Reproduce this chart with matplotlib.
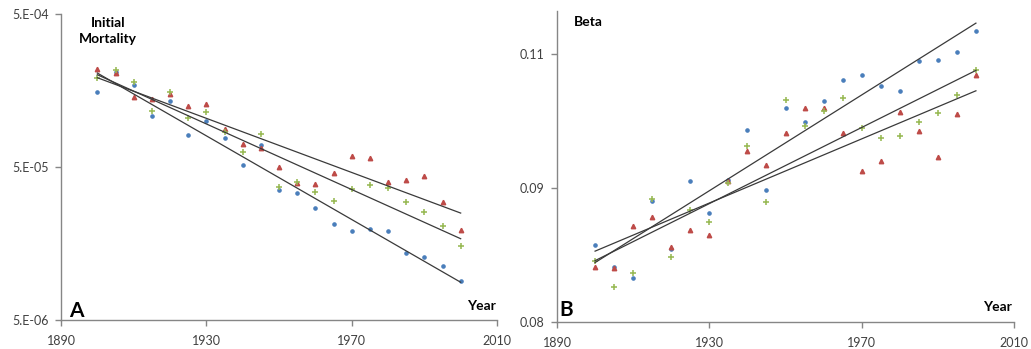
import matplotlib
matplotlib.use('Agg')
import matplotlib.pyplot as plt
import numpy as np

plt.rcParams['font.family'] = ['Lato', 'DejaVu Sans']

years = list(range(1900, 2001, 5))

# panel A: initial mortality (log scale)
mort_blue = [1.55e-4, 2.10e-4, 1.72e-4, 1.08e-4, 1.36e-4, 8.06e-5, 1.00e-4,
             7.77e-5, 5.15e-5, 6.93e-5, 3.54e-5, 3.38e-5, 2.70e-5, 2.13e-5,
             1.90e-5, 1.97e-5, 1.92e-5, 1.37e-5, 1.30e-5, 1.13e-5, 8.99e-6]
mort_red = [2.18e-4, 2.06e-4, 1.43e-4, 1.39e-4, 1.51e-4, 1.25e-4, 1.30e-4,
            8.82e-5, 7.04e-5, 6.69e-5, 5.00e-5, 3.91e-5, 3.90e-5, 4.57e-5,
            5.93e-5, 5.70e-5, 4.01e-5, 4.11e-5, 4.39e-5, 2.95e-5, 1.93e-5]
mort_green = [1.90e-4, 2.16e-4, 1.80e-4, 1.16e-4, 1.54e-4, 1.05e-4, 1.14e-4,
              8.50e-5, 6.27e-5, 8.22e-5, 3.70e-5, 3.96e-5, 3.44e-5, 3.00e-5,
              3.57e-5, 3.81e-5, 3.66e-5, 2.95e-5, 2.53e-5, 2.06e-5, 1.53e-5]

# panel B: beta (log scale)
beta_blue = [0.08754, 0.08531, 0.08424, 0.09218, 0.08713, 0.09434, 0.09093,
             0.09448, 0.10016, 0.09338, 0.10286, 0.10118, 0.10363, 0.10629,
             0.10692, 0.10555, 0.10489, 0.10869, 0.10878, 0.10981, 0.11255]
beta_red = [0.08534, 0.08521, 0.08951, 0.09046, 0.08733, 0.08913, 0.08858,
            0.09434, 0.09772, 0.09620, 0.09988, 0.10278, 0.10278, 0.09981,
            0.09552, 0.09665, 0.10230, 0.10011, 0.09710, 0.10214, 0.10692]
beta_green = [0.08594, 0.08336, 0.08478, 0.09240, 0.08638, 0.09122, 0.08990,
              0.09415, 0.09830, 0.09207, 0.10375, 0.10067, 0.10250, 0.10403,
              0.10040, 0.09930, 0.09946, 0.10114, 0.10226, 0.10443, 0.10754]

xticks = [1890, 1930, 1970, 2010]
mort_ticks = [5e-6, 5e-5, 5e-4]
mort_labels = ['5.E-06', '5.E-05', '5.E-04']
beta_ticks = [0.08, 0.0936, 0.1095]
beta_labels = ['0.08', '0.09', '0.11']

c_blue = '#4a7ebb'
c_red = '#be4b48'
c_green = '#98b954'
gray = '#868686'

W, H = 1031, 349
fig = plt.figure(figsize=(W / 100, H / 100), dpi=100)
ax1 = fig.add_axes([61 / W, 1 - 320 / H, (497 - 61) / W, (320 - 14) / H])
ax2 = fig.add_axes([557 / W, 1 - 322 / H, (1014 - 557) / W, (322 - 11) / H])


def draw(ax, blue, red, green):
    x = np.array(years)
    ax.plot(x, blue, 'o', color=c_blue, ms=2.3, mec=c_blue, zorder=2)
    ax.plot(x, red, '^', color=c_red, ms=3.2, mec=c_red, zorder=2)
    ax.plot(x, green, '+', color=c_green, ms=3.8, mew=1.15, zorder=2)
    # exponential trendlines
    for s in (blue, red, green):
        b, a = np.polyfit(x, np.log(s), 1)
        xx = np.array([x[0], x[-1]])
        ax.plot(xx, np.exp(a + b * xx), color='#3a3a3a', lw=0.9, zorder=3)


draw(ax1, mort_blue, mort_red, mort_green)
draw(ax2, beta_blue, beta_red, beta_green)

ax1.set_yscale('log')
ax1.set_ylim(5e-6, 5e-4)
ax1.set_yticks(mort_ticks)
ax1.set_yticklabels(mort_labels)
ax2.set_yscale('log')
ax2.set_ylim(0.08, 0.1152)
ax2.set_yticks(beta_ticks)
ax2.set_yticklabels(beta_labels)

for ax in (ax1, ax2):
    ax.set_xlim(1890, 2010)
    ax.set_xticks(xticks)
    ax.minorticks_off()
    ax.yaxis.set_minor_locator(matplotlib.ticker.NullLocator())
    for sp in ('top', 'right'):
        ax.spines[sp].set_visible(False)
    for sp in ('left', 'bottom'):
        ax.spines[sp].set_color(gray)
        ax.spines[sp].set_linewidth(1.0)
    ax.tick_params(axis='both', direction='out', length=4, width=1,
                   color=gray, labelsize=9, labelcolor='#404040')
    ax.tick_params(axis='x', pad=7)
    ax.tick_params(axis='y', pad=5)


def ftext(x, y, s, size, **kw):
    fig.text(x / W, 1 - y / H, s, fontsize=size, fontweight='bold',
             ha='center', va='center', **kw)


ftext(108, 31, 'Initial\nMortality', 10, linespacing=1.45)
ftext(588, 22, 'Beta', 10)
ftext(76, 311, 'A', 15)
ftext(566, 310, 'B', 15)
ftext(481, 306, 'Year', 10)
ftext(997, 307, 'Year', 10)

fig.savefig('out.png', dpi=100)
